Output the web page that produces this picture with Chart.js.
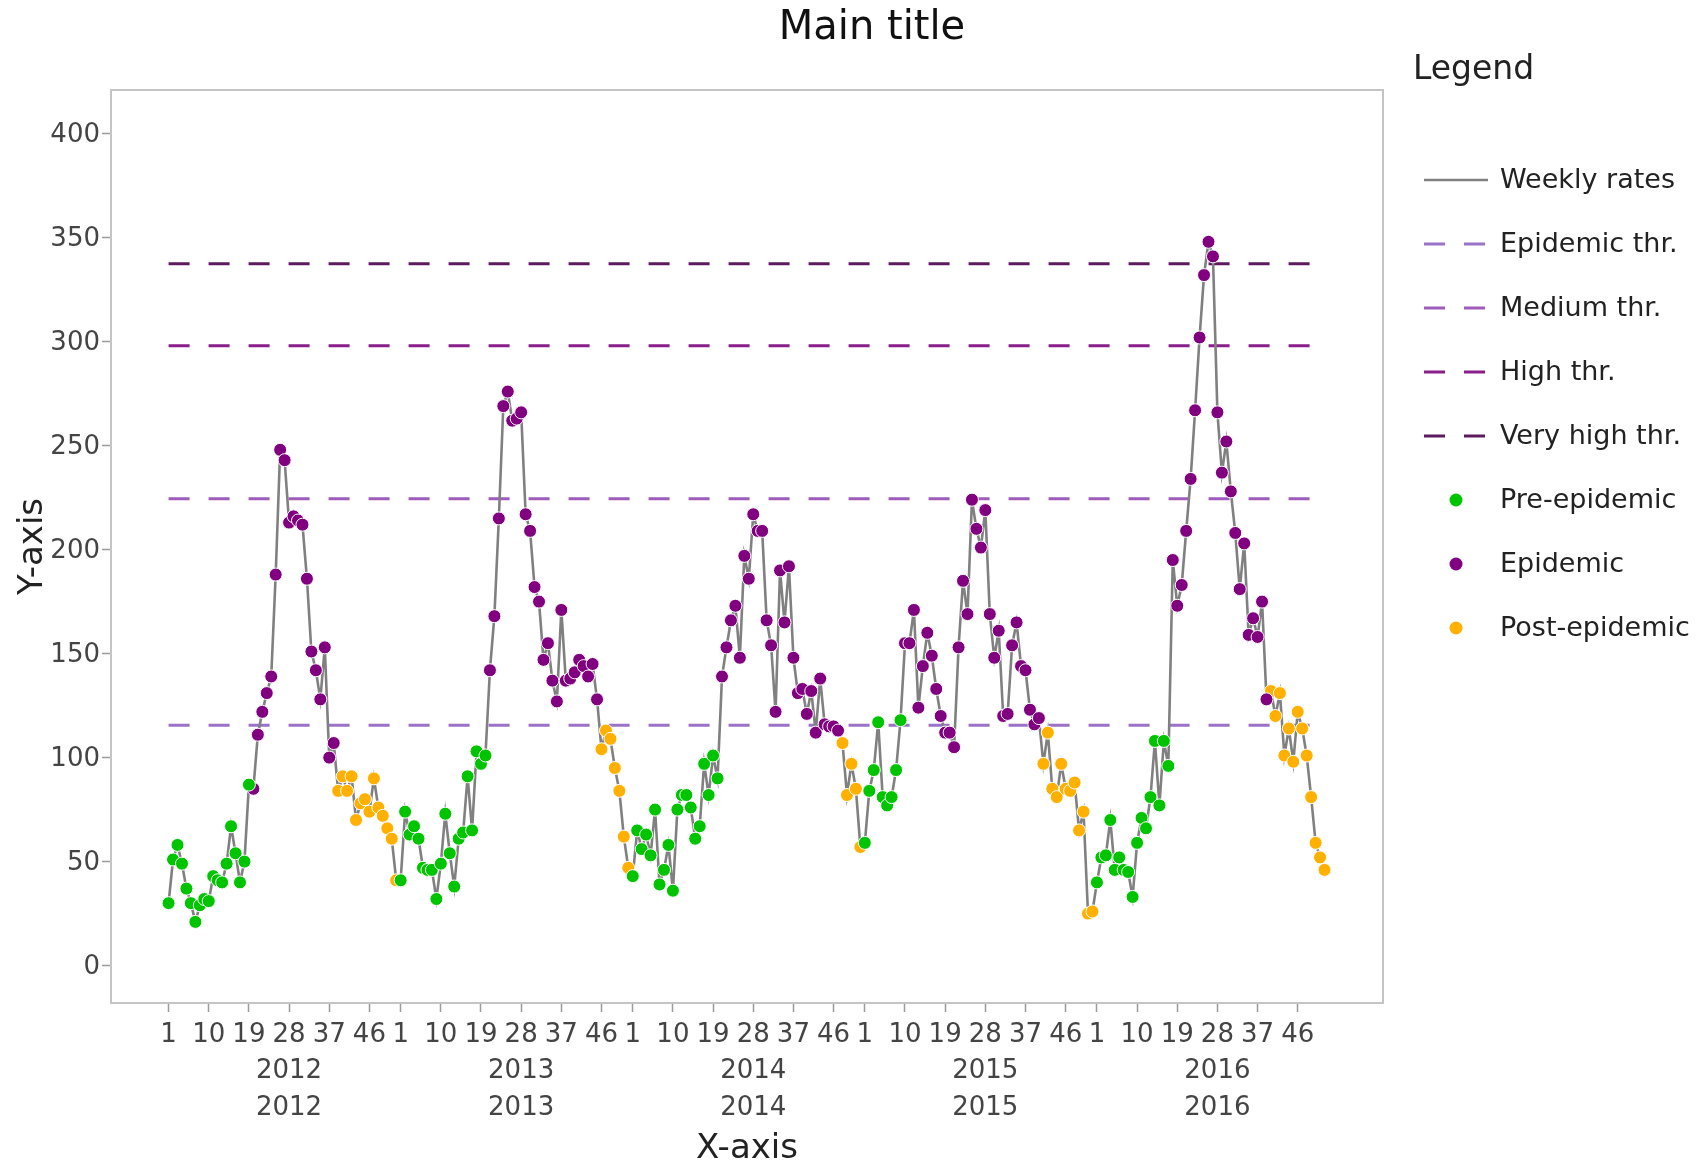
<!DOCTYPE html>
<html>
<head>
<meta charset="utf-8">
<script src="https://cdn.jsdelivr.net/npm/chart.js@4.4.1/dist/chart.umd.min.js"></script>
<style>
	html, body { margin: 0; padding: 0; background: #ffffff; }
	#wrap { width: 1705px; height: 1167px; position: relative; }
	#chart { display: block; }
</style>
</head>
<body>
<div id="wrap"><canvas id="chart" width="1705" height="1167"></canvas></div>
<script>
"use strict";

// seasons and x tick labels
const years			= [2012, 2013, 2014, 2015, 2016]
const week_ticks	= [1, 10, 19, 28, 37, 46]
const year_week		= 28	// the year is written under this week

// weekly rates, weeks 1..52 of each season
const rates_2012 = [30, 51, 58, 49, 37, 30, 21, 29, 32, 31, 43, 41, 40, 49, 67, 54, 40, 50, 87, 85,
	111, 122, 131, 139, 188, 248, 243, 213, 216, 214, 212, 186, 151, 142, 128, 153, 100, 107, 84, 91,
	84, 91, 70, 78, 80, 74, 90, 76, 72, 66, 61, 41]
const rates_2013 = [41, 74, 63, 67, 61, 47, 46, 46, 32, 49, 73, 54, 38, 61, 64, 91, 65, 103, 97, 101,
	142, 168, 215, 269, 276, 262, 263, 266, 217, 209, 182, 175, 147, 155, 137, 127, 171, 137, 138, 141,
	147, 144, 139, 145, 128, 104, 113, 109, 95, 84, 62, 47]
const rates_2014 = [43, 65, 56, 63, 53, 75, 39, 46, 58, 36, 75, 82, 82, 76, 61, 67, 97, 82, 101, 90,
	139, 153, 166, 173, 148, 197, 186, 217, 209, 209, 166, 154, 122, 190, 165, 192, 148, 131, 133, 121,
	132, 112, 138, 116, 115, 115, 113, 107, 82, 97, 85, 57]
const rates_2015 = [59, 84, 94, 117, 81, 77, 81, 94, 118, 155, 155, 171, 124, 144, 160, 149, 133, 120, 112, 112,
	105, 153, 185, 169, 224, 210, 201, 219, 169, 148, 161, 120, 121, 154, 165, 144, 142, 123, 116, 119,
	97, 112, 85, 81, 97, 85, 84, 88, 65, 74, 25, 26]
const rates_2016 = [40, 52, 53, 70, 46, 52, 46, 45, 33, 59, 71, 66, 81, 108, 77, 108, 96, 195, 173, 183,
	209, 234, 267, 302, 332, 348, 341, 266, 237, 252, 228, 208, 181, 203, 159, 167, 158, 175, 128, 132,
	120, 131, 101, 114, 98, 122, 114, 101, 81, 59, 52, 46]

// first epidemic week and first post-epidemic week of each season
const epidemic_start_week	= [20, 21, 21, 10, 18]
const post_start_week		= [39, 46, 48, 41, 40]

// intensity thresholds
const threshold_labels	= ["Epidemic thr.", "Medium thr.", "High thr.", "Very high thr."]
const threshold_values	= [115.5, 224.5, 298, 337.5]

const phase_labels		= ["Pre-epidemic", "Epidemic", "Post-epidemic"]


// styles
const FONT			= "DejaVu Sans, Verdana, sans-serif"
const LINE_COLOR	= "#808080"
const THR_COLORS	= ["#9a72c8", "#a05cbc", "#8a1e8a", "#5e1a5e"]
const PHASE_COLORS	= ["#00c400", "#800080", "#ffb000"]
const THR_DASH		= [21, 19]


// build series
const all_rates = [].concat(rates_2012, rates_2013, rates_2014, rates_2015, rates_2016)
const n_weeks = all_rates.length

const phase_of = function(i) {
	const season	= Math.floor(i / 52)
	const week		= (i % 52) + 1
	if (week < epidemic_start_week[season]) return 0
	if (week < post_start_week[season]) return 1
	return 2
}

const weekly_points = all_rates.map((v, i) => ({x: i, y: v}))

const tick_positions = []
years.forEach((year, y) => {
	week_ticks.forEach((w) => tick_positions.push(y * 52 + w - 1))
})

const datasets = []

datasets.push({
	label			: "Weekly rates",
	data			: weekly_points,
	borderColor		: LINE_COLOR,
	borderWidth		: 2.6,
	pointRadius		: 0,
	tension			: 0,
	order			: 2
})

threshold_labels.forEach((label, k) => {
	datasets.push({
		label			: label,
		data			: [{x: 0, y: threshold_values[k]}, {x: n_weeks - 1, y: threshold_values[k]}],
		borderColor		: THR_COLORS[k],
		borderWidth		: 3,
		borderDash		: THR_DASH,
		pointRadius		: 0,
		order			: 3
	})
})

phase_labels.forEach((label, p) => {
	datasets.push({
		label					: label,
		data					: weekly_points.filter((pt) => phase_of(pt.x) === p),
		showLine				: false,
		pointRadius				: 6.5,
		pointBackgroundColor	: PHASE_COLORS[p],
		pointBorderColor		: "#ffffff",
		pointBorderWidth		: 1,
		order					: 1
	})
})


// title, plot frame and side legend
const frame_and_legend = {
	id : "frame_and_legend",

	beforeDatasetsDraw : function(chart) {
		const ctx	= chart.ctx
		const a		= chart.chartArea
		ctx.save()
		ctx.strokeStyle	= "#c4c4c4"
		ctx.lineWidth	= 2
		ctx.strokeRect(a.left, a.top, a.right - a.left, a.bottom - a.top)
		ctx.restore()
	},

	afterDraw : function(chart) {
		const ctx = chart.ctx
		ctx.save()

		// main title
		ctx.fillStyle		= "#111111"
		ctx.font			= "40px " + FONT
		ctx.textAlign		= "center"
		ctx.textBaseline	= "middle"
		ctx.fillText("Main title", 872, 29)

		// legend title
		ctx.fillStyle	= "#222222"
		ctx.font		= "33px " + FONT
		ctx.textAlign	= "left"
		ctx.fillText("Legend", 1413, 70)

		// legend items
		const sym_left	= 1424
		const sym_w		= 64
		const text_x	= 1500
		const row_y0	= 180
		const row_step	= 64

		ctx.font = "27px " + FONT
		chart.data.datasets.forEach((ds, i) => {
			const y = row_y0 + i * row_step
			if (ds.showLine === false) {
				ctx.beginPath()
				ctx.arc(sym_left + sym_w / 2, y, 6.5, 0, Math.PI * 2)
				ctx.fillStyle = ds.pointBackgroundColor
				ctx.fill()
			} else {
				ctx.beginPath()
				ctx.setLineDash(ds.borderDash || [])
				ctx.strokeStyle	= ds.borderColor
				ctx.lineWidth	= ds.borderWidth
				ctx.moveTo(sym_left, y)
				ctx.lineTo(sym_left + sym_w, y)
				ctx.stroke()
				ctx.setLineDash([])
			}
			ctx.fillStyle = "#222222"
			ctx.fillText(ds.label, text_x, y + 1)
		})

		ctx.restore()
	}
}


const canvas = document.getElementById("chart")

const chart = new Chart(canvas, {
	type	: "line",
	data	: { datasets : datasets },
	plugins	: [frame_and_legend],
	options	: {
		responsive			: false,
		animation			: false,
		devicePixelRatio	: 1,
		layout	: {
			padding : { top: 90, right: 322, bottom: 0, left: 0 }
		},
		plugins	: {
			legend	: { display: false },
			title	: { display: false },
			tooltip	: { enabled: false }
		},
		scales	: {
			x : {
				type	: "linear",
				min		: -12.9,
				max		: 272.1,
				afterBuildTicks : function(scale) {
					scale.ticks = tick_positions.map((v) => ({value: v}))
				},
				afterFit : function(scale) {
					scale.height = 164
				},
				ticks	: {
					autoSkip	: false,
					maxRotation	: 0,
					minRotation	: 0,
					padding		: 5,
					color		: "#444444",
					font		: { family: FONT, size: 26, lineHeight: 1.4 },
					callback	: function(value) {
						const season	= Math.floor(value / 52)
						const week		= (value % 52) + 1
						if (week === year_week) {
							return [String(week), String(years[season]), String(years[season])]
						}
						return String(week)
					}
				},
				grid	: {
					drawOnChartArea	: false,
					drawTicks		: true,
					tickLength		: 9,
					tickWidth		: 1.5,
					tickColor		: "#9a9a9a"
				},
				border	: { display: false },
				title	: {
					display	: true,
					text	: "X-axis",
					color	: "#222222",
					font	: { family: FONT, size: 34, lineHeight: 1.0 },
					padding	: { top: 0, bottom: 1 }
				}
			},
			y : {
				min		: -18,
				max		: 421,
				afterBuildTicks : function(scale) {
					const t = []
					for (let v = 0; v <= 400; v += 50) t.push({value: v})
					scale.ticks = t
				},
				afterFit : function(scale) {
					scale.width = 111
				},
				ticks	: {
					padding		: 2,
					labelOffset	: 2,
					color		: "#444444",
					font		: { family: FONT, size: 26 }
				},
				grid	: {
					drawOnChartArea	: false,
					drawTicks		: true,
					tickLength		: 9,
					tickWidth		: 1.5,
					tickColor		: "#9a9a9a"
				},
				border	: { display: false },
				title	: {
					display	: true,
					text	: "Y-axis",
					color	: "#222222",
					font	: { family: FONT, size: 34 },
					padding	: { top: 13, bottom: 0 }
				}
			}
		}
	}
})
</script>
</body>
</html>
